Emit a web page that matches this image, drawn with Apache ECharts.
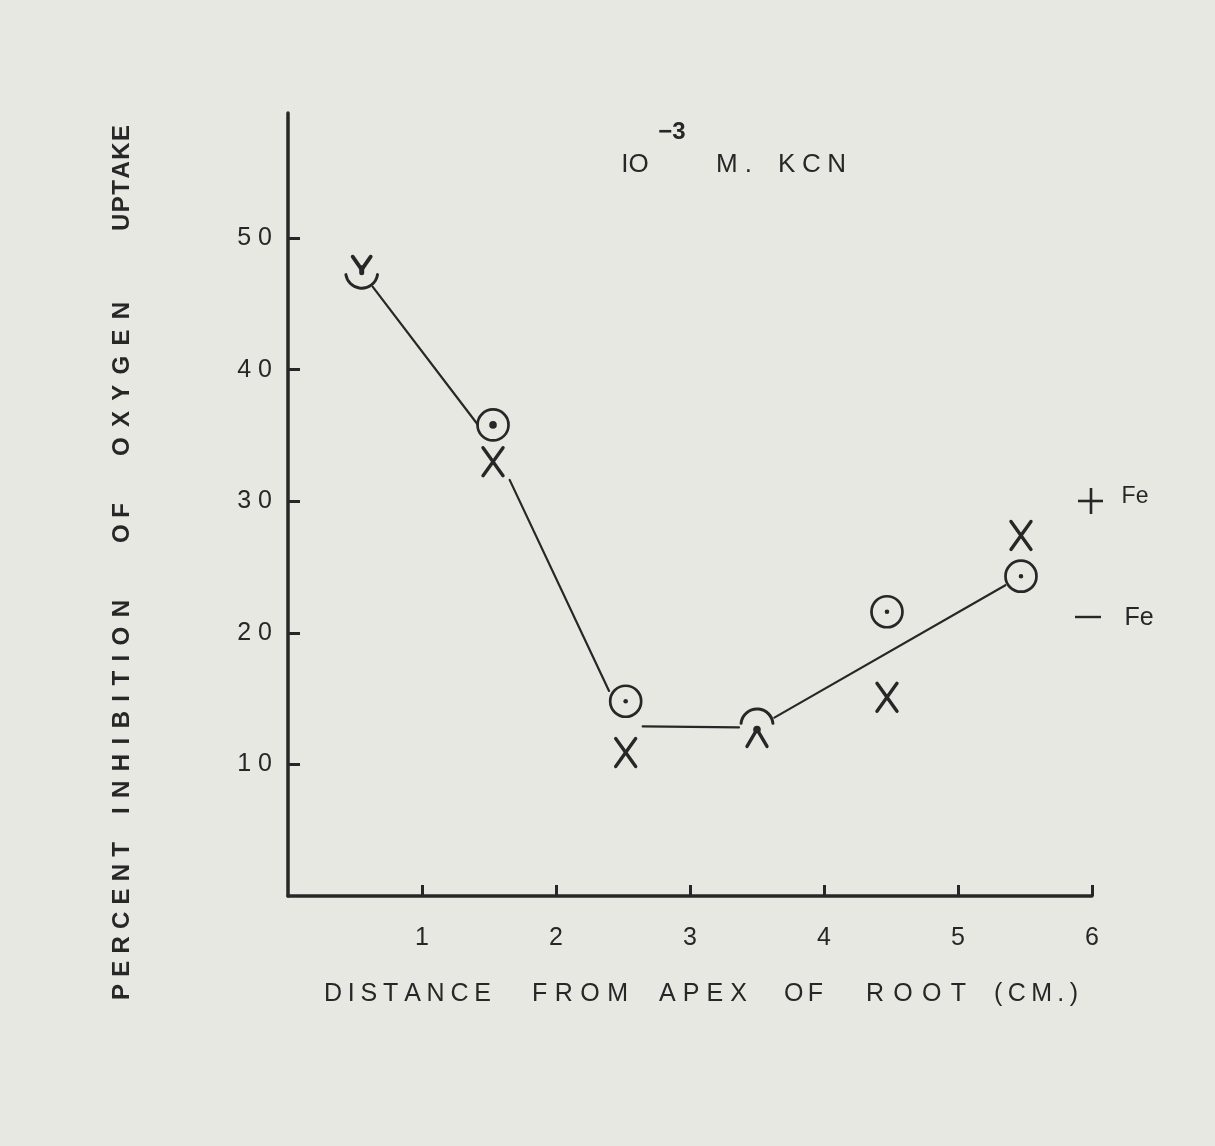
<!DOCTYPE html>
<html><head><meta charset="utf-8">
<script src="https://cdn.jsdelivr.net/npm/echarts@6/dist/echarts.min.js"></script>
<style>html,body{margin:0;padding:0;background:#e8e8e3;}#c{width:1215px;height:1146px;}</style>
</head><body><div id="c"></div>
<script>
// ---- data ----
const xPositions = [0.55, 1.53, 2.52, 3.5, 4.47, 5.47];
const minusFe = [47.4, 35.8, 14.8, 13.0, 21.6, 24.3];   // circle-dot markers (−Fe)
const plusFe  = [47.9, 33.0, 10.9, 12.2, 15.1, 27.4];   // X markers (+Fe)
const lineX = [0.55, 1.53, 2.52, 3.5, 5.47];
const lineY = [47.4, 34.3, 12.9, 12.8, 24.3];
const xTicks = [1, 2, 3, 4, 5, 6];
const yTicks = [10, 20, 30, 40, 50];

// ---- styles ----
const INK = '#272727';
const BG = '#e8e8e3';
const minusShapes = ['arcBottom', 'circleDot', 'circleDot', 'arcTop', 'circleDot', 'circleDot'];
const plusShapes  = ['vee', 'cross', 'cross', 'caret', 'cross', 'cross'];
const segGapStart = [18, 39, 17, 20];
const segGapEnd   = [25, 39, 18, 18];

const chart = echarts.init(document.getElementById('c'), null, {renderer: 'canvas'});

function strokeStyle(w) { return {stroke: INK, lineWidth: w, fill: 'none', lineCap: 'round', lineJoin: 'round'}; }

function renderCircle(params, api) {
  const p = api.coord([api.value(0), api.value(1)]);
  const kind = minusShapes[params.dataIndex];
  if (kind === 'circleDot') {
    return {type: 'group', children: [
      {type: 'circle', shape: {cx: p[0], cy: p[1], r: 15.5}, style: strokeStyle(2.7)},
      {type: 'circle', shape: {cx: p[0], cy: p[1], r: params.dataIndex === 1 ? 3.8 : 2.3}, style: {fill: INK}}
    ]};
  }
  if (kind === 'arcBottom') {
    return {type: 'arc', shape: {cx: p[0], cy: p[1], r: 16, startAngle: 0.15, endAngle: Math.PI - 0.15, clockwise: true}, style: strokeStyle(3)};
  }
  return {type: 'arc', shape: {cx: p[0], cy: p[1], r: 16, startAngle: Math.PI + 0.1, endAngle: 2 * Math.PI - 0.1, clockwise: true}, style: strokeStyle(3)};
}

function renderCross(params, api) {
  const p = api.coord([api.value(0), api.value(1)]);
  const kind = plusShapes[params.dataIndex];
  const x = p[0], y = p[1];
  if (kind === 'cross') {
    return {type: 'group', children: [
      {type: 'line', shape: {x1: x - 10, y1: y - 14, x2: x + 10, y2: y + 14}, style: strokeStyle(3.4)},
      {type: 'line', shape: {x1: x + 10, y1: y - 14, x2: x - 10, y2: y + 14}, style: strokeStyle(3.4)}
    ]};
  }
  if (kind === 'vee') {
    return {type: 'group', children: [
      {type: 'polyline', shape: {points: [[x - 9, y - 9], [x, y + 4], [x + 9, y - 9]]}, style: strokeStyle(3.8)},
      {type: 'line', shape: {x1: x, y1: y + 2, x2: x, y2: y + 7}, style: strokeStyle(5)}
    ]};
  }
  return {type: 'group', children: [
    {type: 'polyline', shape: {points: [[x - 10, y + 11], [x, y - 6], [x + 10, y + 11]]}, style: strokeStyle(3.4)},
    {type: 'circle', shape: {cx: x, cy: y - 6, r: 3.8}, style: {fill: INK}}
  ]};
}

function renderLine(params, api) {
  const i = params.dataIndex;
  if (i >= lineX.length - 1) return null;
  const a = api.coord([lineX[i], lineY[i]]);
  const b = api.coord([lineX[i + 1], lineY[i + 1]]);
  const dx = b[0] - a[0], dy = b[1] - a[1];
  const len = Math.sqrt(dx * dx + dy * dy);
  const ux = dx / len, uy = dy / len;
  const g0 = segGapStart[i], g1 = segGapEnd[i];
  return {type: 'line', shape: {x1: a[0] + ux * g0, y1: a[1] + uy * g0, x2: b[0] - ux * g1, y2: b[1] - uy * g1},
    style: {stroke: INK, lineWidth: 2.2, lineCap: 'round'}};
}

const FONT = 'Liberation Sans';
function fontStr(size, weight) { return (weight ? weight + ' ' : '') + size + 'px "' + FONT + '"'; }
function txt(text, x, y, size, weight, rotation) {
  const el = {type: 'text', x: x, y: y,
    style: {text: text, fill: INK, font: fontStr(size, weight), textAlign: 'center', textVerticalAlign: 'middle'}};
  if (rotation) el.rotation = rotation;
  return el;
}
const measureCtx = document.createElement('canvas').getContext('2d');
// letter-spaced word: the word is stretched from a to b with equal extra space between letters
function spaced(out, word, a, b, fixed, size, weight, vertical) {
  measureCtx.font = fontStr(size, weight);
  const letters = word.split('');
  const widths = letters.map(ch => measureCtx.measureText(ch).width);
  const total = widths.reduce((s, w) => s + w, 0);
  const span = Math.abs(b - a), dir = b > a ? 1 : -1;
  const n = letters.length;
  if (n === 1) {
    const c = (a + b) / 2;
    out.push(vertical ? txt(word, fixed, c, size, weight, Math.PI / 2) : txt(word, c, fixed, size, weight));
    return;
  }
  const gap = Math.max(1, (span - total) / (n - 1));
  const used = total + gap * (n - 1);
  let pos = (a + b) / 2 - dir * used / 2;
  letters.forEach((ch, i) => {
    const c = pos + dir * widths[i] / 2;
    if (ch !== ' ') out.push(vertical ? txt(ch, fixed, c, size, weight, Math.PI / 2) : txt(ch, c, fixed, size, weight));
    pos += dir * (widths[i] + gap);
  });
}

const yTitleWords = [['PERCENT', 1000, 842], ['INHIBITION', 814, 600], ['OF', 543, 503], ['OXYGEN', 456, 302], ['UPTAKE', 231, 125]];
const xTitleWords = [['DISTANCE', 324, 491], ['FROM', 532, 628], ['APEX', 659, 747], ['OF', 784, 823], ['ROOT', 866, 966], ['(CM.)', 994, 1078]];

const graphics = [];
yTitleWords.forEach(w => spaced(graphics, w[0], w[1], w[2], 122, 24, 'bold', true));
xTitleWords.forEach(w => spaced(graphics, w[0], w[1], w[2], 994, 25, null, false));
graphics.push(txt('IO', 635, 165, 26));
graphics.push(txt('−3', 672, 132, 24, 'bold'));
spaced(graphics, 'M.', 716, 752, 165, 26, null, false);
spaced(graphics, 'KCN', 778, 846, 165, 26, null, false);
// legend
graphics.push({type: 'line', shape: {x1: 1078, y1: 501, x2: 1103, y2: 501}, style: {stroke: INK, lineWidth: 2.6}});
graphics.push({type: 'line', shape: {x1: 1091, y1: 488, x2: 1091, y2: 514}, style: {stroke: INK, lineWidth: 2.6}});
graphics.push(txt('Fe', 1135, 497, 23));
graphics.push({type: 'line', shape: {x1: 1075, y1: 617, x2: 1101, y2: 617}, style: {stroke: INK, lineWidth: 2.4}});
graphics.push(txt('Fe', 1139, 618, 25));

chart.setOption({
  backgroundColor: BG,
  animation: false,
  grid: {left: 288, right: 123, top: 113, bottom: 250},
  xAxis: {
    type: 'value', min: 0, max: 6, interval: 1,
    axisLine: {lineStyle: {color: INK, width: 3.5}},
    axisTick: {inside: true, length: 11, lineStyle: {color: INK, width: 3}, customValues: xTicks},
    axisLabel: {customValues: xTicks, color: INK, fontSize: 25, fontFamily: FONT, margin: 30},
    splitLine: {show: false}
  },
  yAxis: {
    type: 'value', min: 0, max: 59.5, interval: 10,
    axisLine: {lineStyle: {color: INK, width: 3.5}},
    axisTick: {inside: true, length: 12, lineStyle: {color: INK, width: 3}, customValues: yTicks},
    axisLabel: {customValues: yTicks, color: INK, fontSize: 25, fontFamily: FONT, margin: 16,
      formatter: v => String(v).split('').join(' ')},
    splitLine: {show: false}
  },
  graphic: graphics,
  series: [
    {type: 'custom', name: 'line', renderItem: renderLine, data: lineX.map((x, i) => [x, lineY[i]]), z: 2},
    {type: 'custom', name: '−Fe', renderItem: renderCircle, data: xPositions.map((x, i) => [x, minusFe[i]]), z: 3},
    {type: 'custom', name: '+Fe', renderItem: renderCross, data: xPositions.map((x, i) => [x, plusFe[i]]), z: 3}
  ]
});
</script>
</body></html>
